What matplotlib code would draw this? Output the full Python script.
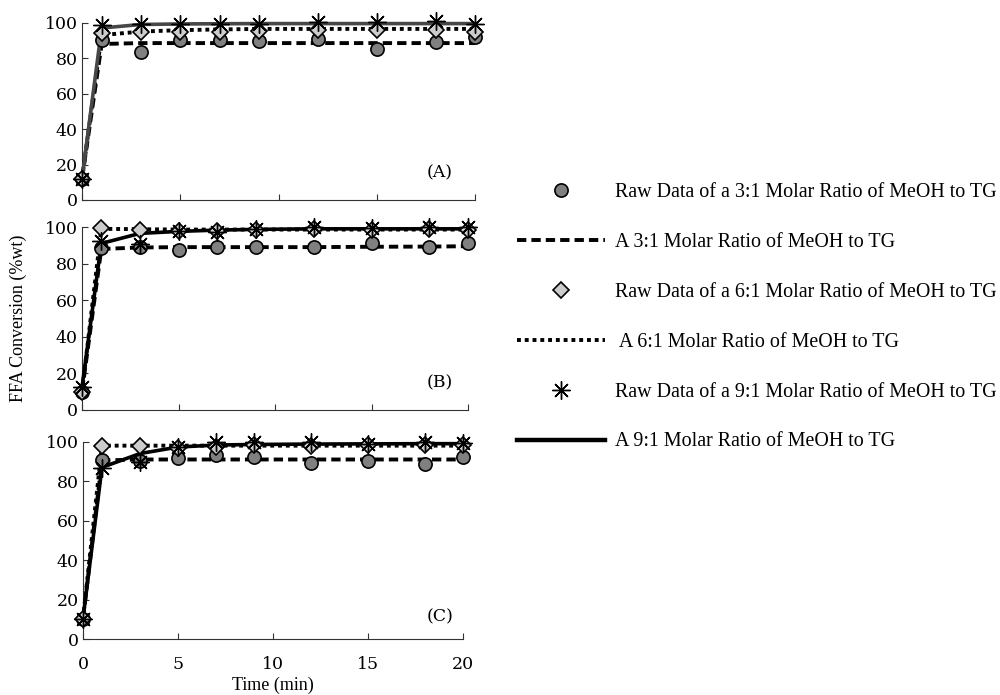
import matplotlib
matplotlib.use("Agg")
import matplotlib.pyplot as plt
from matplotlib.lines import Line2D

# ---------------- data ----------------
time_min = [0, 1, 3, 5, 7, 9, 12, 15, 18, 20]

# Panel A
A_raw_31 = [12, 90.5, 83.5, 90.5, 90.5, 89.5, 91, 85, 89, 92]
A_mod_31 = [12, 88, 88.5, 88.5, 88.5, 88.5, 88.5, 88.5, 88.5, 88.5]
A_raw_61 = [12, 94, 95, 95, 95, 95.5, 96, 95.8, 96, 95]
A_mod_61 = [12, 93, 95, 95.8, 96.2, 96.5, 96.5, 96.5, 96.5, 96.5]
A_raw_91 = [12, 98.5, 99.5, 99.5, 99.5, 99.5, 100.5, 100.5, 101, 99.5]
A_mod_91 = [12, 97, 99, 99.3, 99.4, 99.5, 99.5, 99.5, 99.5, 99.5]

# Panel B
B_raw_31 = [10, 88.5, 89, 87.5, 89, 89, 89, 91.5, 89, 91]
B_mod_31 = [10, 88, 88.8, 89, 89, 89, 89, 89.2, 89.3, 89.5]
B_raw_61 = [10, 99.5, 98.5, 98, 98, 98.5, 99, 98.5, 99, 98.5]
B_mod_61 = [10, 99, 98.8, 98.6, 98.6, 98.6, 98.6, 98.6, 98.6, 98.6]
B_raw_91 = [12.5, 92.5, 90.5, 98, 97, 99, 100, 99.5, 100, 100]
B_mod_91 = [12.5, 91, 96.5, 97.6, 98.3, 98.7, 99, 99, 99, 99]

# Panel C
C_raw_31 = [10.5, 90.5, 90, 91.5, 93.5, 92.5, 89, 90, 88.5, 92.5]
C_mod_31 = [10.5, 90.5, 91, 91, 91, 91, 91, 91, 91, 91]
C_raw_61 = [10.5, 98, 98, 97, 97.5, 98.5, 98, 98.5, 98.5, 98.5]
C_mod_61 = [10.5, 98, 98, 98, 98, 98, 98, 98, 98, 98]
C_raw_91 = [10.5, 86.5, 89.5, 97.5, 100, 100, 100, 99, 100, 99.5]
C_mod_91 = [10.5, 87, 94, 97.3, 98.3, 98.6, 98.8, 98.9, 99, 99]

panel_tags = ["(A)", "(B)", "(C)"]
y_ticks = [0, 20, 40, 60, 80, 100]
x_ticks = [0, 5, 10, 15, 20]
legend_labels = [
    "Raw Data of a 3:1 Molar Ratio of MeOH to TG",
    "A 3:1 Molar Ratio of MeOH to TG",
    "Raw Data of a 6:1 Molar Ratio of MeOH to TG",
    " A 6:1 Molar Ratio of MeOH to TG",
    "Raw Data of a 9:1 Molar Ratio of MeOH to TG",
    "A 9:1 Molar Ratio of MeOH to TG",
]

panels = [
    (A_raw_31, A_mod_31, A_raw_61, A_mod_61, A_raw_91, A_mod_91),
    (B_raw_31, B_mod_31, B_raw_61, B_mod_61, B_raw_91, B_mod_91),
    (C_raw_31, C_mod_31, C_raw_61, C_mod_61, C_raw_91, C_mod_91),
]

# ---------------- figure ----------------
W, H = 1000, 695
fig = plt.figure(figsize=(W / 100, H / 100), dpi=100)

def rect(left, right, top, bottom):
    return [left / W, 1 - bottom / H, (right - left) / W, (bottom - top) / H]

rects = [rect(82, 475, 22.7, 200), rect(82, 468, 227, 410), rect(83, 463, 441.7, 639.3)]
tag_pos = [(0.911, 0.152), (0.927, 0.147), (0.94, 0.111)]
solid_colors = ["#474747", "black", "black"]

tick_font = dict(family="DejaVu Serif", size=12.5)
asterisk = (8, 2, 0)
legend_handles = None

for i, (r31, m31, r61, m61, r91, m91) in enumerate(panels):
    ax = fig.add_axes(rects[i])
    h_m31, = ax.plot(time_min, m31, color="black", lw=2.8, ls=(0, (2.4, 1.3)), clip_on=False, zorder=3)
    h_m61, = ax.plot(time_min, m61, color="black", lw=2.8, ls=(0, (1, 1)), clip_on=False, zorder=3)
    h_m91, = ax.plot(time_min, m91, color=solid_colors[i], lw=2.6, ls="-", clip_on=False, zorder=3)
    h_r31, = ax.plot(time_min, r31, ls="none", marker="o", ms=9.5, mfc="#808080", mec="black",
                     mew=1.2, clip_on=False, zorder=4)
    h_r61, = ax.plot(time_min, r61, ls="none", marker="D", ms=8.5, mfc="#cccccc", mec="black",
                     mew=1.2, clip_on=False, zorder=4)
    h_r91, = ax.plot(time_min, r91, ls="none", marker=asterisk, ms=13, mfc="black", mec="black",
                     mew=1.0, clip_on=False, zorder=5)
    if i == 2:
        h_m91b = Line2D([], [], color="black", lw=3.2)
        legend_handles = [h_r31, h_m31, h_r61, h_m61, h_r91, h_m91b]

    ax.set_xlim(0, 20)
    ax.set_ylim(0, 100)
    ax.set_xticks(x_ticks)
    ax.set_yticks(y_ticks)
    for s in ("top", "right"):
        ax.spines[s].set_visible(False)
    for s in ("left", "bottom"):
        ax.spines[s].set_linewidth(0.8)
        ax.spines[s].set_color("#333333")
    ax.tick_params(direction="in", length=4, width=0.8, colors="#333333", labelcolor="black")
    ax.tick_params(axis="y", pad=3)
    ax.tick_params(axis="x", pad=12)
    for lab in ax.get_yticklabels():
        lab.set_fontfamily(tick_font["family"])
        lab.set_fontsize(tick_font["size"])
    if i < 2:
        ax.set_xticklabels([])
    else:
        for lab in ax.get_xticklabels():
            lab.set_fontfamily(tick_font["family"])
            lab.set_fontsize(tick_font["size"])
        ax.set_xlabel("Time (min)", fontfamily="Liberation Serif", fontsize=13, labelpad=3)
    ax.text(tag_pos[i][0], tag_pos[i][1], panel_tags[i], transform=ax.transAxes, ha="center",
            va="center", fontfamily="DejaVu Serif", fontsize=12.5)

fig.text(0.018, 1 - 318 / H, "FFA Conversion (%wt)", rotation=90, ha="center", va="center",
         fontfamily="Liberation Serif", fontsize=13)

fig.legend(legend_handles, legend_labels, loc="upper left", bbox_to_anchor=(517 / W, 1 - 183 / H),
           frameon=False, prop=dict(family="Liberation Serif", size=14.4), handlelength=4.4,
           handletextpad=0.5, labelspacing=1.545, borderpad=0, borderaxespad=0, numpoints=1)

fig.savefig("out.png", dpi=100)
